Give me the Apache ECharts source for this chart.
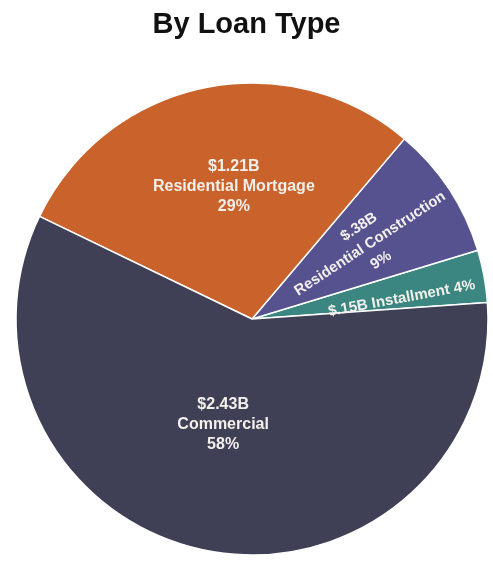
<!DOCTYPE html>
<html>
<head>
<meta charset="utf-8">
<script src="https://cdn.jsdelivr.net/npm/echarts@6/dist/echarts.min.js"></script>
<style>
  html, body { margin: 0; padding: 0; background: #ffffff; }
  #chart { width: 493px; height: 563px; }
</style>
</head>
<body>
<div id="chart"></div>
<script>
// Loan portfolio by type (billions of dollars)
const loanTypes = ['Installment', 'Residential Construction', 'Residential Mortgage', 'Commercial'];
const amounts = [0.15, 0.38, 1.21, 2.43];
const amountLabels = ['$.15B', '$.38B', '$1.21B', '$2.43B'];
const percentLabels = ['4%', '9%', '29%', '58%'];
const sliceColors = ['#3b8680', '#55528f', '#c9632b', '#3f4055'];

// label shifts away from the default inside anchor
const labelShift = [[30, 7], [19, 2], [7, -14], [-6, -13]];

const data = loanTypes.map((name, i) => {
  const item = {
    name: name,
    value: amounts[i],
    itemStyle: { color: sliceColors[i] },
    label: {}
  };
  if (i === 0) {
    item.label.formatter = amountLabels[i] + ' ' + name + ' ' + percentLabels[i];
    item.label.rotate = 'radial';
    item.label.fontSize = 15;
  } else if (i === 1) {
    item.label.formatter = amountLabels[i] + '\n' + name + '\n' + percentLabels[i];
    item.label.rotate = 'radial';
    item.label.fontSize = 15;
  } else {
    item.label.formatter = amountLabels[i] + '\n' + name + '\n' + percentLabels[i];
  }
  return item;
});

const chart = echarts.init(document.getElementById('chart'), null, { renderer: 'canvas' });
chart.setOption({
  animation: false,
  title: {
    text: 'By Loan Type',
    left: 'center',
    top: 5,
    textStyle: {
      fontFamily: 'Liberation Sans, Arial, sans-serif',
      fontSize: 29,
      fontWeight: 'bold',
      color: '#111111'
    }
  },
  series: [{
    type: 'pie',
    center: [252, 319],
    radius: [0, 236],
    startAngle: 4,
    clockwise: false,
    avoidLabelOverlap: false,
    itemStyle: { borderColor: '#ffffff', borderWidth: 1.5 },
    label: {
      show: true,
      position: 'inside',
      fontFamily: 'Liberation Sans, Arial, sans-serif',
      fontSize: 16,
      fontWeight: 'bold',
      lineHeight: 20,
      color: '#f3efea',
      align: 'center'
    },
    labelLine: { show: false },
    labelLayout: function (params) {
      const s = labelShift[params.dataIndex];
      return { dx: s[0], dy: s[1] };
    },
    emphasis: { disabled: true },
    data: data
  }]
});
</script>
</body>
</html>
